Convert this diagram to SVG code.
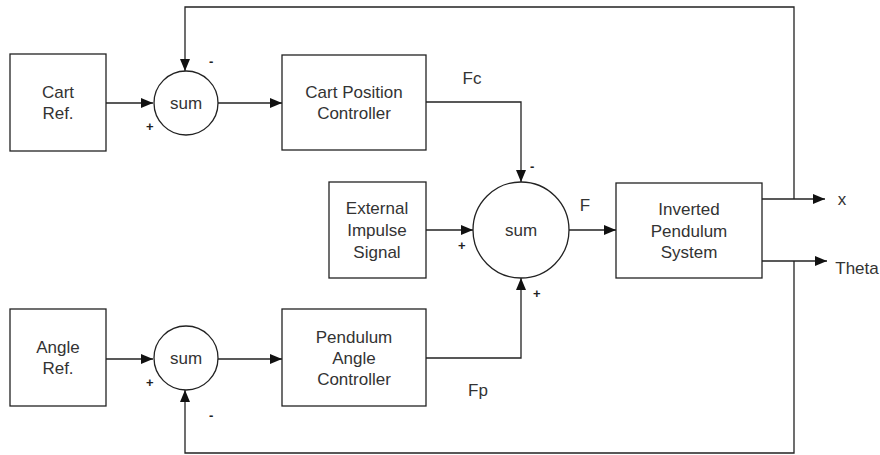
<svg xmlns="http://www.w3.org/2000/svg" width="880" height="455" viewBox="0 0 880 455">
<style>
.b{fill:#fff;stroke:#222;stroke-width:1.3}
.t{font-family:"Liberation Sans",Arial,sans-serif;font-size:17px;fill:#333;text-anchor:middle}
.s{font-family:"Liberation Sans",Arial,sans-serif;font-size:13px;fill:#222;font-weight:bold}
.c{fill:none;stroke:#222;stroke-width:1.3}
</style>
<defs>
<marker id="a" viewBox="0 0 12 10" refX="12" refY="5" markerWidth="12" markerHeight="10" markerUnits="userSpaceOnUse" orient="auto">
<path d="M0,0 L12,5 L0,10 Z" fill="#111"/>
</marker>
</defs>
<g id="connectors">
<path class="c" d="M106,103 H153" marker-end="url(#a)"/>
<path class="c" d="M218,103 H282" marker-end="url(#a)"/>
<path class="c" d="M426,102 H521 V182" marker-end="url(#a)"/>
<path class="c" d="M426,230 H473" marker-end="url(#a)"/>
<path class="c" d="M569,230 H616" marker-end="url(#a)"/>
<path class="c" d="M762,199 H825" marker-end="url(#a)"/>
<path class="c" d="M762,261 H827" marker-end="url(#a)"/>
<path class="c" d="M794,199 V7 H185 V71" marker-end="url(#a)"/>
<path class="c" d="M794,261 V453 H185 V390" marker-end="url(#a)"/>
<path class="c" d="M106,359 H153" marker-end="url(#a)"/>
<path class="c" d="M218,359 H282" marker-end="url(#a)"/>
<path class="c" d="M426,358 H521 V278" marker-end="url(#a)"/>
</g>
<g id="cart-ref"><rect class="b" x="10" y="54" width="96" height="97"/><text class="t" x="58" y="98">Cart</text><text class="t" x="58" y="119">Ref.</text></g>
<g id="sum1"><circle class="b" cx="186" cy="103" r="32"/><text class="t" x="186" y="109">sum</text><text class="s" x="209" y="66">-</text><text class="s" x="146" y="131">+</text></g>
<g id="cart-pos-ctrl"><rect class="b" x="282" y="55" width="144" height="95"/><text class="t" x="354" y="98">Cart Position</text><text class="t" x="354" y="119">Controller</text></g>
<g id="ext-impulse"><rect class="b" x="329" y="182" width="97" height="96"/><text class="t" x="377" y="214">External</text><text class="t" x="377" y="236">Impulse</text><text class="t" x="377" y="258">Signal</text></g>
<g id="sum-main"><circle class="b" cx="521" cy="230" r="48"/><text class="t" x="521" y="236">sum</text><text class="s" x="530" y="171">-</text><text class="s" x="458" y="250">+</text><text class="s" x="533" y="298">+</text></g>
<g id="ips"><rect class="b" x="616" y="183" width="146" height="95"/><text class="t" x="689" y="215">Inverted</text><text class="t" x="689" y="237">Pendulum</text><text class="t" x="689" y="258">System</text></g>
<g id="angle-ref"><rect class="b" x="10" y="309" width="96" height="97"/><text class="t" x="58" y="353">Angle</text><text class="t" x="58" y="374">Ref.</text></g>
<g id="sum2"><circle class="b" cx="186" cy="358" r="32"/><text class="t" x="186" y="364">sum</text><text class="s" x="146" y="387">+</text><text class="s" x="209" y="420">-</text></g>
<g id="pend-ctrl"><rect class="b" x="282" y="309" width="144" height="97"/><text class="t" x="354" y="343">Pendulum</text><text class="t" x="354" y="364">Angle</text><text class="t" x="354" y="385">Controller</text></g>
<g id="labels">
<text class="t" x="472" y="84">Fc</text>
<text class="t" x="585" y="211">F</text>
<text class="t" x="478" y="396">Fp</text>
<text class="t" x="842" y="205">x</text>
<text class="t" x="857" y="274">Theta</text>
</g>
</svg>
